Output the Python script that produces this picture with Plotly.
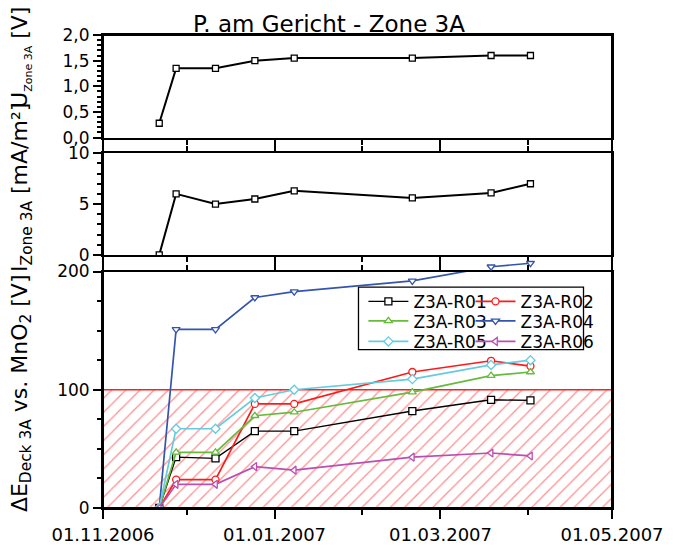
import plotly.graph_objects as go

# ---- data -------------------------------------------------------------
dates = ["2006-11-21", "2006-11-27", "2006-12-11", "2006-12-25",
         "2007-01-08", "2007-02-19", "2007-03-19", "2007-04-02"]

u_zone = [0.28, 1.35, 1.35, 1.50, 1.55, 1.55, 1.60, 1.60]   # V
i_zone = [0.0, 6.0, 5.0, 5.5, 6.3, 5.6, 6.1, 7.0]           # mA/m²

r01 = [0, 43, 42, 65, 65, 82, 91.5, 91]
r02 = [0, 24, 24, 88, 88, 115, 124.5, 120]
r03 = [0, 47, 47, 78, 81, 98, 112, 115]
r04 = [0, 151, 151, 178, 183, 192, 204, 207]
r05 = [0, 67, 67, 93, 100, 109, 121, 125]
r06 = [0, 20, 20, 35, 32, 43, 46.5, 44]

series_names = ["Z3A-R01", "Z3A-R02", "Z3A-R03", "Z3A-R04", "Z3A-R05", "Z3A-R06"]
x_range = ["2006-11-01", "2007-05-01"]
limit_band = [0, 100]          # hatched band of the lower panel

# ---- page geometry ------------------------------------------------------
FONT = "DejaVu Sans"
W, H = 676, 557
ML, MR, MT, MB = 103, 55, 35, 38
PW, PH = W - ML - MR, H - MT - MB


def ypap(py):
    return (H - MB - py) / PH


def xpap(px):
    return (px - ML) / PW


dom_bot = [0.0, ypap(277)]
dom_gap = [ypap(277), ypap(260)]
dom_mid = [ypap(260), ypap(156)]
dom_top = [ypap(140), 1.0]
gap_top = 200 + 200 * (dom_gap[1] - dom_gap[0]) / (dom_bot[1] - dom_bot[0])

styles = [
    ("black", "square", "legend"),
    ("#ff1a1a", "circle", "legend2"),
    ("#66bb3c", "triangle-up", "legend3"),
    ("#3554ad", "triangle-down", "legend4"),
    ("#66ccdd", "diamond", "legend5"),
    ("#bb4fb0", "triangle-left", "legend6"),
]
values = [r01, r02, r03, r04, r05, r06]

fig = go.Figure()

# upper panel: zone voltage
fig.add_trace(go.Scatter(
    x=dates, y=u_zone, xaxis="x3", yaxis="y3", mode="lines+markers",
    line=dict(color="black", width=2),
    marker=dict(symbol="square", size=6, color="white",
                line=dict(color="black", width=1.3)),
    showlegend=False, hoverinfo="skip"))

# middle panel: zone current density
fig.add_trace(go.Scatter(
    x=dates, y=i_zone, xaxis="x2", yaxis="y2", mode="lines+markers",
    line=dict(color="black", width=2),
    marker=dict(symbol="square", size=6, color="white",
                line=dict(color="black", width=1.3)),
    showlegend=False, hoverinfo="skip"))

# hatched band 0..100 V in the lower panel
band_x = [x_range[0], x_range[1], x_range[1], x_range[0], x_range[0]]
band_y = [limit_band[0], limit_band[0], limit_band[1], limit_band[1], limit_band[0]]
fig.add_trace(go.Scatter(
    x=band_x, y=band_y, xaxis="x", yaxis="y", mode="lines",
    fill="toself", fillcolor="rgba(0,0,0,0)",
    fillpattern=dict(shape="/", fgcolor="#ff2020", bgcolor="white",
                     size=10, solidity=0.13),
    line=dict(color="#ff2020", width=1.3),
    showlegend=False, hoverinfo="skip"))

# lower panel: potential differences of the reference electrodes
for name, vals, (col, sym, leg) in zip(series_names, values, styles):
    fig.add_trace(go.Scatter(
        x=dates, y=vals, xaxis="x", yaxis="y", mode="lines+markers",
        name=name, legend=leg,
        line=dict(color=col, width=1.7 if col != "black" else 1.4),
        marker=dict(symbol=sym, size=7, color="white",
                    line=dict(color=col, width=1.3)),
        hoverinfo="skip"))

# R04 points above 200 V continue in the strip between the panels
col, sym, _ = styles[3]
fig.add_trace(go.Scatter(
    x=dates[6:], y=r04[6:], xaxis="x4", yaxis="y4", mode="lines+markers",
    line=dict(color=col, width=1.7),
    marker=dict(symbol=sym, size=7, color="white",
                line=dict(color=col, width=1.3)),
    showlegend=False, hoverinfo="skip"))

# ---- axes -------------------------------------------------------------
tick_common = dict(ticks="outside", tickcolor="black", tickwidth=1.5,
                   showline=True, linecolor="black", linewidth=2,
                   showgrid=False, zeroline=False)


def xax(anchor, **kw):
    d = dict(type="date", range=x_range, anchor=anchor, domain=[0, 1],
             dtick="M2", tick0="2006-11-01", ticklen=9,
             minor=dict(dtick="M1", ticks="outside", ticklen=5,
                        tickwidth=1.5, tickcolor="black"),
             **tick_common)
    d.update(kw)
    return d


def yax(anchor, dom, rng, dtick, mdtick, **kw):
    d = dict(anchor=anchor, domain=dom, range=rng, dtick=dtick, ticklen=8,
             mirror=True,
             minor=dict(dtick=mdtick, ticks="outside", ticklen=4,
                        tickwidth=1.5, tickcolor="black"),
             tickfont=dict(family=FONT, size=17, color="black"),
             **tick_common)
    d.update(kw)
    return d


layout = dict(
    width=W, height=H,
    margin=dict(l=ML, r=MR, t=MT, b=MB, pad=0),
    paper_bgcolor="white", plot_bgcolor="white",
    separators=",.",
    font=dict(family=FONT, color="black"),
    title=dict(text="P. am Gericht - Zone 3A", x=329 / W, xanchor="center",
               y=1 - 24 / H, yanchor="middle", xref="container", yref="container",
               font=dict(family=FONT, size=23, color="black")),
    xaxis=xax("y", mirror="ticks", tickformat="%d.%m.%Y",
              tickfont=dict(family=FONT, size=18, color="black")),
    xaxis2=xax("y2", mirror="ticks", showticklabels=False),
    xaxis3=xax("y3", mirror=True, showticklabels=False),
    xaxis4=dict(type="date", range=x_range, anchor="y4", domain=[0, 1], visible=False),
    yaxis=yax("x", dom_bot, [0, 200], 100, 25),
    yaxis2=yax("x2", dom_mid, [0, 10], 5, 1),
    yaxis3=yax("x3", dom_top, [0, 2], 0.5, 0.1, tickformat=".1f"),
    yaxis4=dict(anchor="x4", domain=dom_gap, range=[200, gap_top], visible=False),
)

# legends: two columns, three rows
leg_cols = [368, 477]
leg_rows = [308, 328, 349]
for k, (_, _, leg) in enumerate(styles):
    layout[leg] = dict(
        x=xpap(leg_cols[k % 2]), y=ypap(leg_rows[k // 2]),
        xanchor="left", yanchor="middle", itemwidth=40,
        bgcolor="rgba(0,0,0,0)", borderwidth=0,
        font=dict(family=FONT, size=17, color="black"))

fig.update_layout(**layout)

# outer frame (continuous through the strips between the panels) and legend box
fig.add_shape(type="rect", xref="paper", yref="paper", x0=0, x1=1, y0=0, y1=1,
              line=dict(color="black", width=2), layer="above")
fig.add_shape(type="rect", xref="paper", yref="paper",
              x0=xpap(363), x1=xpap(592), y0=ypap(357), y1=ypap(293),
              line=dict(color="black", width=1.3), fillcolor="white", layer="below")

# axis titles
ytitle_x = xpap(20)
fig.add_annotation(text="ΔE<sub>Deck 3A</sub> vs. MnO<sub>2</sub> [V]",
                   xref="paper", yref="paper", x=ytitle_x, y=ypap(401),
                   xanchor="center", yanchor="middle", textangle=-90,
                   showarrow=False, font=dict(family=FONT, size=22, color="black"))
fig.add_annotation(text="I<sub>Zone 3A</sub> [mA/m²]",
                   xref="paper", yref="paper", x=ytitle_x, y=ypap(191),
                   xanchor="center", yanchor="middle", textangle=-90,
                   showarrow=False, font=dict(family=FONT, size=22, color="black"))
fig.add_annotation(text="U<sub><span style='font-size:11px'>Zone 3A</span></sub> [V]",
                   xref="paper", yref="paper", x=ytitle_x, y=ypap(58),
                   xanchor="center", yanchor="middle", textangle=-90,
                   showarrow=False, font=dict(family=FONT, size=22, color="black"))

fig.write_html("out.html")
